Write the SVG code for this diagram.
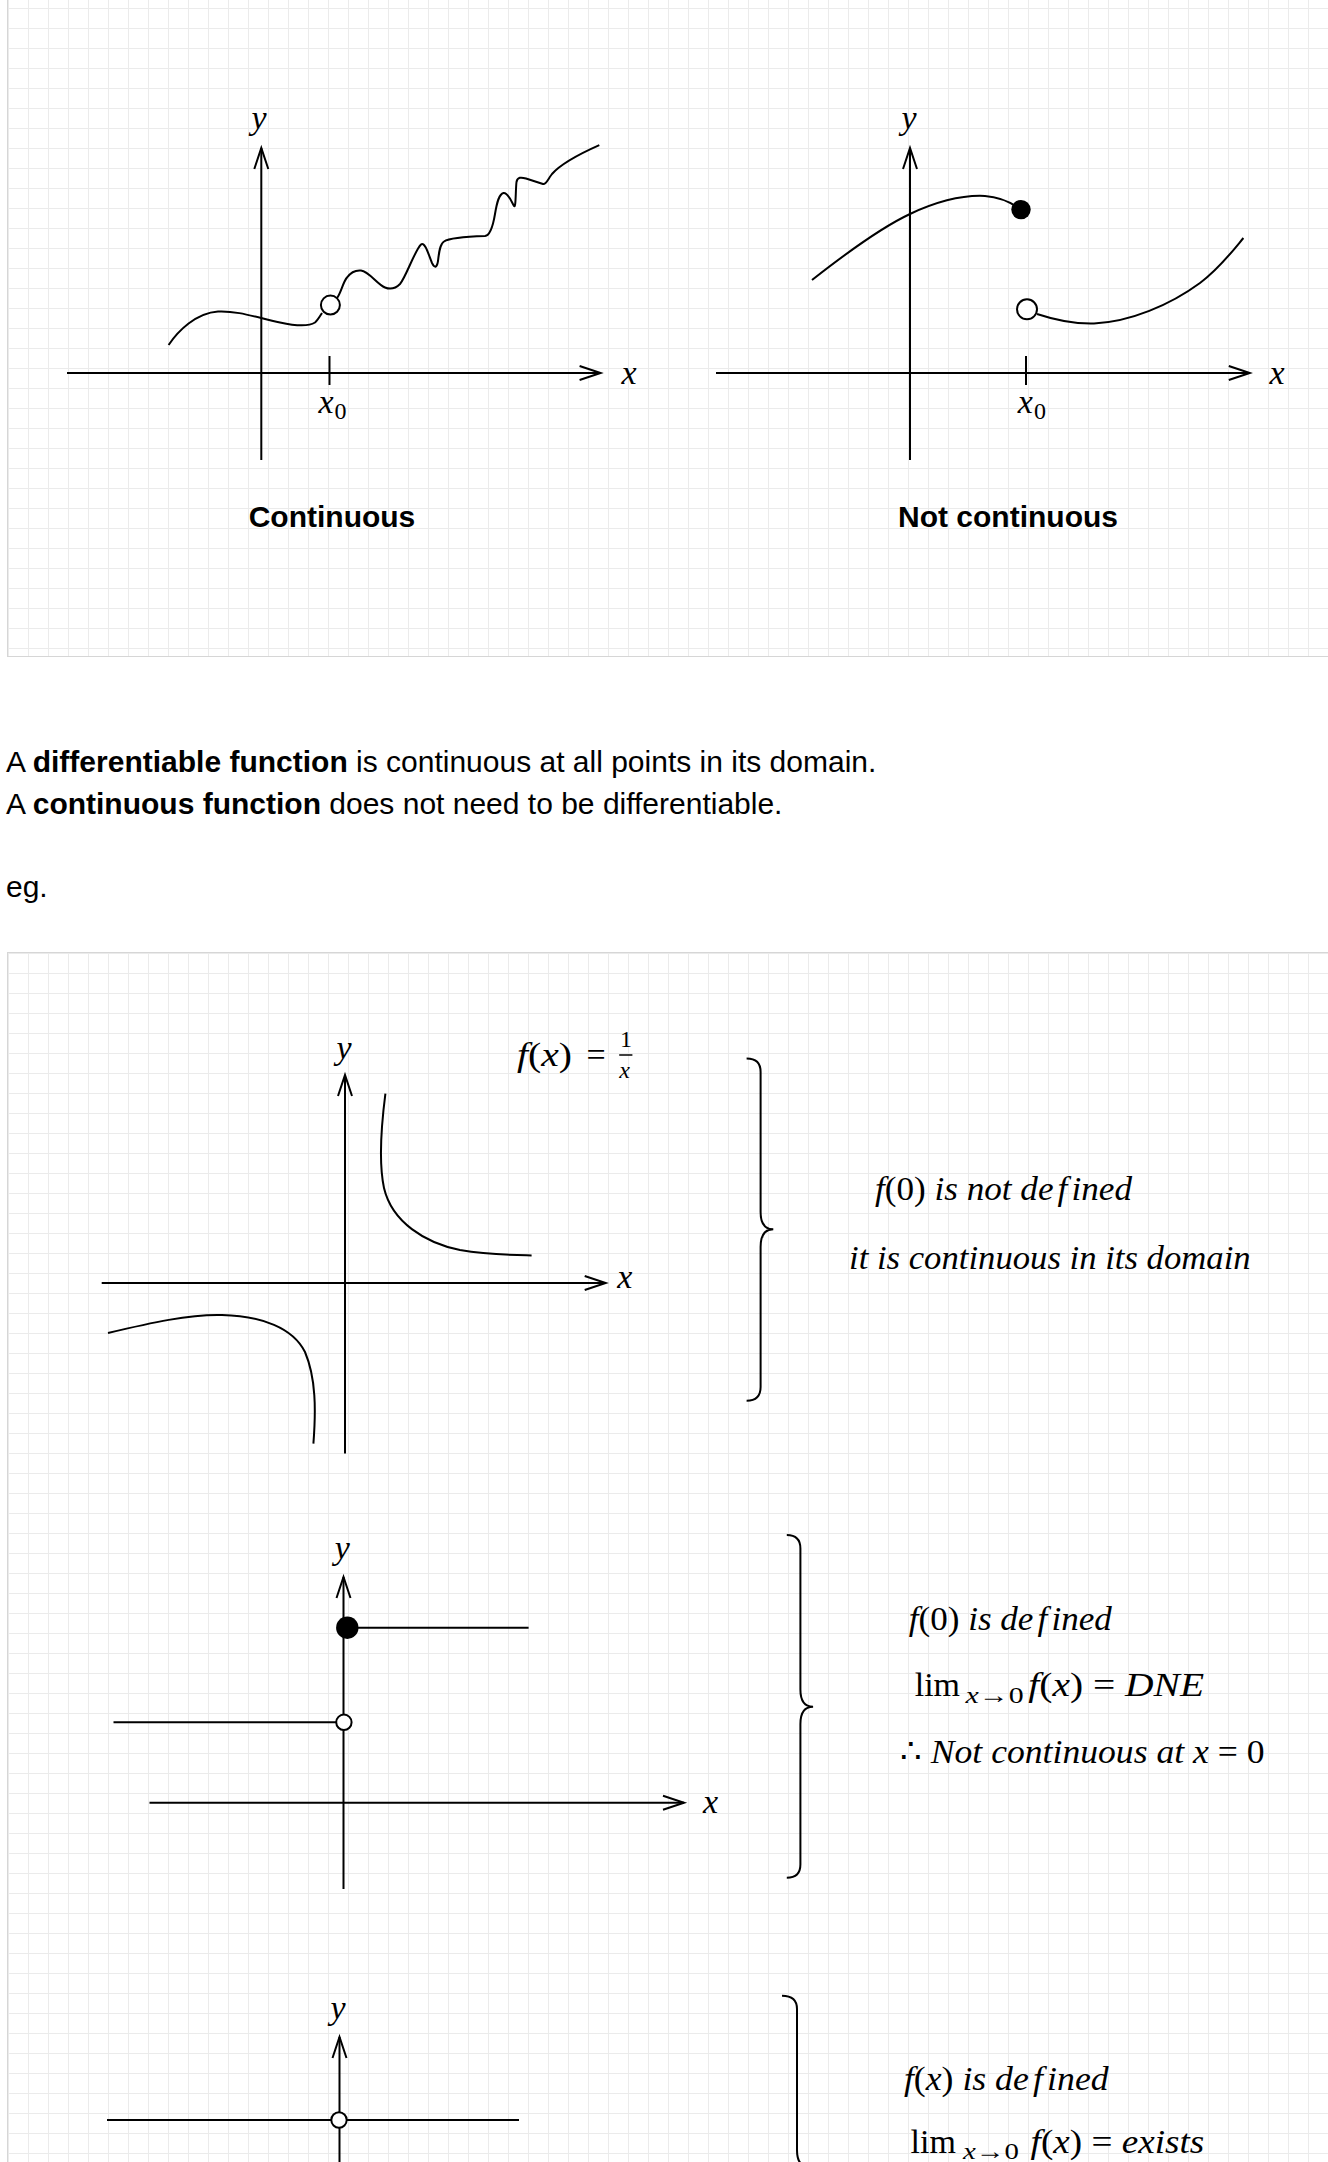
<svg xmlns="http://www.w3.org/2000/svg" width="1328" height="2162" viewBox="0 0 1328 2162">
<style>
.ax{stroke:#000;stroke-width:2;fill:none}
.crv{stroke:#000;stroke-width:2;fill:none}
.m{font-family:"Liberation Serif","DejaVu Serif",serif;font-style:italic;font-size:34px;fill:#000}
.up{font-style:normal}
.sub{font-size:24px}
.lbl{font-family:"Liberation Sans",Arial,sans-serif;font-weight:bold;font-size:30px;fill:#000}
.body{font-family:"Liberation Sans",Arial,sans-serif;font-size:30px;fill:#000}
.open{fill:#fff;stroke:#000;stroke-width:2}
.dot{fill:#000}
.panel{stroke:#d6d6d6;stroke-width:1}
</style>
<defs>
<pattern id="g1" x="8" y="8" width="20" height="20" patternUnits="userSpaceOnUse"><path d="M0.5 0V20M0 0.5H20" stroke="#ebebeb" stroke-width="1" fill="none"/></pattern>
<pattern id="g2" x="8" y="13" width="20" height="20" patternUnits="userSpaceOnUse"><path d="M0.5 0V20M0 0.5H20" stroke="#ebebeb" stroke-width="1" fill="none"/></pattern>
<marker id="arr" viewBox="-24 -10 26 20" refX="0" refY="0" markerWidth="26" markerHeight="20" markerUnits="userSpaceOnUse" orient="auto" overflow="visible"><path d="M-21,-7 L0,0 L-21,7" fill="none" stroke="#000" stroke-width="2"/></marker>
</defs>
<rect x="0" y="0" width="1328" height="2162" fill="#fff"/>
<g id="panel-top">
<rect x="7.5" y="-1.5" width="1330" height="658" fill="#fff"/>
<rect class="panel" x="7.5" y="-1.5" width="1330" height="658" fill="url(#g1)"/>
</g>
<g id="panel-bottom">
<rect x="7.5" y="952.5" width="1330" height="1300" fill="#fff"/>
<rect class="panel" x="7.5" y="952.5" width="1330" height="1300" fill="url(#g2)"/>
</g>
<g id="connectors">
<path class="ax" d="M261.3,460 V148" marker-end="url(#arr)"/>
<path class="ax" d="M67,373 H600.6" marker-end="url(#arr)"/>
<path class="ax" d="M910,460 V148" marker-end="url(#arr)"/>
<path class="ax" d="M716,373 H1249.8" marker-end="url(#arr)"/>
<path class="ax" d="M345,1453.6 V1075" marker-end="url(#arr)"/>
<path class="ax" d="M101.7,1283 H605.7" marker-end="url(#arr)"/>
<path class="ax" d="M343.5,1889 V1577" marker-end="url(#arr)"/>
<path class="ax" d="M149.5,1802.7 H684" marker-end="url(#arr)"/>
<path class="ax" d="M339.5,2175 V2037" marker-end="url(#arr)"/>
</g>
<g id="graph-continuous">
<text class="m" x="259" y="129" text-anchor="middle">y</text>
<text class="m" x="629" y="384" text-anchor="middle">x</text>
<path class="ax" d="M329.5,356 V385"/>
<text class="m" x="318.5" y="412.5">x</text><text class="m up sub" x="334.6" y="418.8">0</text>
<path class="crv" d="M168.6,345 C178,331 196,313 218,311.5 C238,310.5 258,318 280,322.5 C296,326 308,327 315,322.5 C318,320 320,316 322,313"/>
<path class="crv" d="M337,298 C341,293 343,282 347,277.5 C351,272 356,270 361,270.5 C369,271.5 377,284 385,287.5 C391,290 396,288 400,284 C406,277 415,250 421,244.5 C425,241 429,256 432,263 C435,269 437,267 438,261 C439,252 440,244 444,241.5 C450,237.5 470,236.5 485,236 C490,235.5 493,226 495,214 C497,202 499,194 503.5,193 C508,192 512,203 514,206 C516,209 515.5,190 516.5,182 C517.5,177 521,177 526,178.5 L543,184 C546,185 548,179 552,174 C560,165 575,156 599.3,145.2"/>
<circle class="open" cx="330.4" cy="305.1" r="9.5"/>
<text class="lbl" x="332" y="527" text-anchor="middle">Continuous</text>
</g>
<g id="graph-not-continuous">
<text class="m" x="909" y="129" text-anchor="middle">y</text>
<text class="m" x="1277" y="384" text-anchor="middle">x</text>
<path class="ax" d="M1026,356 V385"/>
<text class="m" x="1017.7" y="412.5">x</text><text class="m up sub" x="1034" y="418.8">0</text>
<path class="crv" d="M812,280 C840,258 880,228 910,214 C940,200 965,195 985,196 C1000,197 1012,203 1021,209.6"/>
<path class="crv" d="M1037,314 C1055,320 1075,324 1094,323.5 C1130,322 1170,305 1200,283 C1220,268 1235,248 1243.4,238"/>
<circle class="dot" cx="1021" cy="209.6" r="9.7"/>
<circle class="open" cx="1027" cy="309.3" r="10"/>
<text class="lbl" x="1008" y="527" text-anchor="middle">Not continuous</text>
</g>
<g id="text-block">
<text class="body" x="6" y="772">A <tspan font-weight="bold">differentiable function</tspan> is continuous at all points in its domain.</text>
<text class="body" x="6" y="814">A <tspan font-weight="bold">continuous function</tspan> does not need to be differentiable.</text>
<text class="body" x="6" y="897">eg.</text>
</g>
<g id="graph-reciprocal">
<text class="m" x="344" y="1059" text-anchor="middle">y</text>
<text class="m" x="624.7" y="1288" text-anchor="middle">x</text>
<text class="m" x="517" y="1066" textLength="55" lengthAdjust="spacingAndGlyphs">f<tspan class="up">(</tspan>x<tspan class="up">)</tspan></text>
<text class="m up" x="586.6" y="1066">=</text>
<text class="m up sub" x="626" y="1047" text-anchor="middle">1</text>
<path d="M619.2,1055 H632.4" stroke="#000" stroke-width="1.5"/>
<text class="m sub" x="624.7" y="1078" text-anchor="middle">x</text>
<path class="crv" d="M385.4,1093.6 C382,1120 378,1160 384,1188 C392,1222 425,1243 460,1250 C490,1255 512,1255 531.6,1255.4"/>
<path class="crv" d="M108,1333 C150,1323 190,1314 222,1315 C262,1316 293,1328 305,1352 C316,1378 316,1410 313.4,1443.6"/>
</g>
<g id="brace-1">
<path class="crv" d="M746.6,1058.6 C755,1058.6 760.6,1062 760.6,1072 L760.6,1212 C760.6,1224 765,1229.3 773.3,1229.3 C765,1229.3 760.6,1235 760.6,1247 L760.6,1387 C760.6,1397 755,1400.7 746.6,1400.7"/>
<text class="m" x="875" y="1200" textLength="257" lengthAdjust="spacingAndGlyphs">f<tspan class="up">(0)</tspan> is not de<tspan dx="4">f</tspan><tspan dx="4">ined</tspan></text>
<text class="m" x="849" y="1268.6" textLength="401.6" lengthAdjust="spacingAndGlyphs">it is continuous in its domain</text>
</g>
<g id="graph-step">
<text class="m" x="342.2" y="1559" text-anchor="middle">y</text>
<text class="m" x="710.6" y="1813" text-anchor="middle">x</text>
<path class="crv" d="M355,1627.7 H528.6"/>
<path class="crv" d="M113.5,1722.3 H336"/>
<circle class="dot" cx="347.3" cy="1627.7" r="11.2"/>
<circle class="open" cx="343.9" cy="1722.3" r="7.7"/>
</g>
<g id="brace-2">
<path class="crv" d="M786.8,1535 C795,1535 800.4,1538.5 800.4,1548.5 L800.4,1689.5 C800.4,1701.5 805,1706.7 813.1,1706.7 C805,1706.7 800.4,1712 800.4,1724 L800.4,1864.5 C800.4,1874.5 795,1877.7 786.8,1877.7"/>
<text class="m" x="908.8" y="1630" textLength="203" lengthAdjust="spacingAndGlyphs">f<tspan class="up">(0)</tspan> is de<tspan dx="4">f</tspan><tspan dx="4">ined</tspan></text>
<text class="m up" x="914.7" y="1696">lim</text>
<text class="m sub" x="965.6" y="1703" textLength="58" lengthAdjust="spacingAndGlyphs">x<tspan class="up">→0</tspan></text>
<text class="m" x="1028.3" y="1696" textLength="175.7" lengthAdjust="spacingAndGlyphs">f<tspan class="up">(</tspan>x<tspan class="up">) = </tspan>DNE</text>
<text class="m up" x="900" y="1763">∴</text>
<text class="m" x="930.8" y="1763" textLength="333.8" lengthAdjust="spacingAndGlyphs">Not continuous at x <tspan class="up">= 0</tspan></text>
</g>
<g id="graph-removable">
<text class="m" x="338" y="2019" text-anchor="middle">y</text>
<path class="crv" d="M107,2120 H519"/>
<circle class="open" cx="339" cy="2120" r="7.7"/>
</g>
<g id="brace-3">
<path class="crv" d="M782,1995.7 C790.5,1995.7 797,1999 797,2009 L797,2150 C797,2162 801.5,2167 809.5,2167 C801.5,2167 797,2172 797,2184"/>
<text class="m" x="903.9" y="2090" textLength="204.7" lengthAdjust="spacingAndGlyphs">f<tspan class="up">(</tspan>x<tspan class="up">)</tspan> is de<tspan dx="4">f</tspan><tspan dx="4">ined</tspan></text>
<text class="m up" x="910.6" y="2153">lim</text>
<text class="m sub" x="963" y="2159" textLength="56" lengthAdjust="spacingAndGlyphs">x<tspan class="up">→0</tspan></text>
<text class="m" x="1030.6" y="2153" textLength="173.6" lengthAdjust="spacingAndGlyphs">f<tspan class="up">(</tspan>x<tspan class="up">) = </tspan>exists</text>
</g>
</svg>
